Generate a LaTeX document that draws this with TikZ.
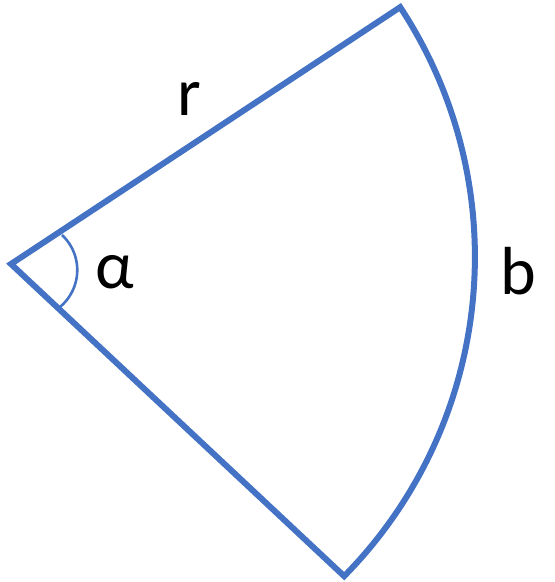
\documentclass[tikz,border=0pt]{standalone}
\usepackage{fontspec}
\setmainfont{Carlito}
\definecolor{secblue}{HTML}{4472C4}
\tikzset{
  sector/.style={draw=secblue, line width=6pt, line join=miter},
  anglemark/.style={draw=secblue, line width=2.6pt},
  lbl/.style={inner sep=0pt, font=\fontsize{68}{72}\selectfont, text=black}
}
\begin{document}
\begin{tikzpicture}[x=1pt,y=1pt]
\useasboundingbox (0,0) rectangle (555,582);
\coordinate (V) at (11,318);
\coordinate (T) at (400.2,574.8);
\draw[sector] (V) -- (T) arc[start angle=33.3, end angle=-44.55, radius=455pt] -- cycle;
\coordinate (A) at (62,347);
\draw[anglemark] (A) arc[start angle=47, end angle=-51, radius=48pt];
\node[lbl] (r) at (189.5,483.5) {r};
\node[lbl] (alpha) at (115,310) {α};
\node[lbl] (b) at (518,311) {b};
\end{tikzpicture}
\end{document}
